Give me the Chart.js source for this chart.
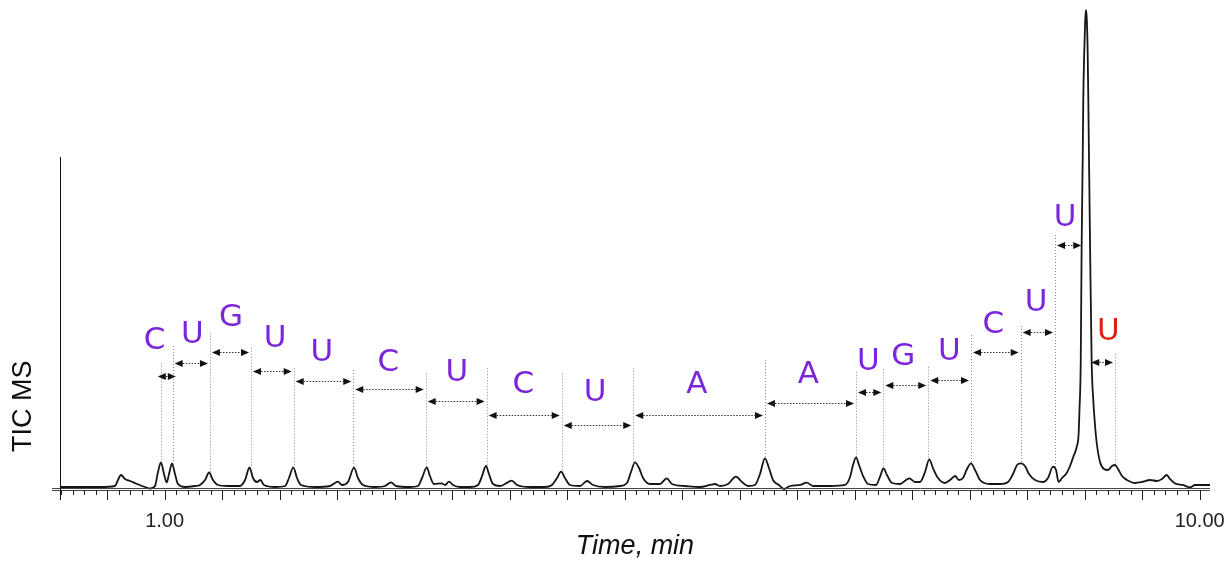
<!DOCTYPE html>
<html><head><meta charset="utf-8">
<script src="https://cdn.jsdelivr.net/npm/chart.js@4.4.1/dist/chart.umd.min.js"></script>
<style>html,body{margin:0;padding:0;background:#fff;overflow:hidden}canvas{display:block}</style>
</head><body>
<canvas id="c" width="1224" height="562"></canvas>
<script>
// ---- trace (time in min, TIC in % of largest peak) ----
const TIME = [0.090,0.438,0.568,0.594,0.620,0.655,0.699,0.760,0.829,0.873,
0.916,0.942,0.968,0.994,1.018,1.038,1.064,1.090,1.116,1.177,
1.264,1.307,1.351,1.386,1.420,1.464,1.551,1.655,1.699,1.738,
1.768,1.803,1.833,1.864,1.960,2.047,2.081,2.119,2.151,2.186,
2.307,2.438,2.481,2.507,2.542,2.594,2.647,2.681,2.725,2.829,
2.916,2.968,3.012,3.133,3.203,3.238,3.279,3.307,3.342,3.409,
3.438,3.473,3.507,3.568,3.655,3.725,3.760,3.794,3.820,3.855,
3.916,3.960,4.018,4.064,4.177,4.307,4.368,4.412,4.447,4.481,
4.525,4.612,4.673,4.725,4.829,4.960,5.020,5.055,5.090,5.125,
5.160,5.220,5.307,5.366,5.412,5.525,5.655,5.742,5.786,5.829,
5.899,5.968,6.020,6.073,6.133,6.177,6.220,6.255,6.290,6.342,
6.386,6.438,6.525,6.583,6.638,6.786,6.916,6.960,6.986,7.012,
7.038,7.073,7.116,7.186,7.220,7.251,7.281,7.325,7.394,7.475,
7.525,7.568,7.612,7.649,7.681,7.725,7.786,7.829,7.873,7.907,
7.942,7.977,8.012,8.047,8.090,8.177,8.264,8.334,8.377,8.412,
8.447,8.481,8.516,8.568,8.638,8.681,8.725,8.751,8.773,8.803,
8.844,8.873,8.901,8.931,8.947,8.955,8.966,8.974,8.983,8.988,
8.997,9.005,9.012,9.019,9.026,9.032,9.038,9.047,9.061,9.075,
9.090,9.105,9.133,9.168,9.203,9.238,9.264,9.290,9.325,9.368,
9.438,9.499,9.568,9.629,9.673,9.714,9.742,9.786,9.855,9.916,
9.960,10.090];
const TIC = [0.62,0.62,0.83,2.07,3.11,2.28,1.87,1.24,0.62,0.31,
0.83,3.73,5.71,3.32,1.56,3.32,5.50,3.32,1.24,0.62,
0.83,1.04,2.07,3.63,2.07,1.04,0.83,0.83,2.07,4.67,
2.49,1.66,2.07,1.04,0.62,0.83,2.49,4.71,2.49,1.04,
0.62,0.83,1.45,1.72,1.04,1.66,4.63,2.49,1.04,0.62,
0.83,1.60,0.83,0.62,0.83,2.49,4.71,2.90,1.24,1.39,
1.04,1.72,1.04,0.62,0.62,1.04,2.90,4.98,3.32,1.24,
0.83,1.24,1.93,1.04,0.62,0.62,1.04,2.49,3.80,2.49,
1.04,0.83,1.87,1.04,0.62,0.83,1.45,3.73,5.75,4.56,
2.49,1.24,1.24,2.43,1.24,0.83,0.62,1.04,1.24,0.83,
1.24,2.76,1.66,0.83,1.04,3.32,6.58,4.56,2.07,1.04,
0.21,0.83,1.04,1.51,0.83,0.83,1.04,2.70,5.19,6.78,
5.19,2.90,1.24,1.04,2.70,4.46,3.11,1.45,1.24,2.43,
1.66,1.66,3.73,6.37,4.56,2.49,1.45,2.07,2.90,2.07,
2.49,4.36,5.54,4.15,2.07,1.24,1.24,1.66,3.32,5.19,
5.54,4.98,3.32,2.07,1.66,2.49,4.83,4.15,1.66,2.49,
3.53,4.98,6.85,8.92,11.41,16.60,26.56,50.83,68.46,80.91,
91.29,97.51,99.59,97.51,91.29,80.91,68.46,50.83,26.56,18.67,
13.49,9.75,5.87,4.36,4.15,4.98,5.19,4.36,2.90,2.07,
1.45,1.66,2.07,1.87,2.28,3.11,2.28,1.35,1.04,0.52,
1.04,1.04];

// ---- peak boundary markers (dotted verticals) ----
const BOUND_T    = [0.968,1.070,1.394,1.751,2.122,2.640,3.270,3.800,4.453,5.075,6.220,7.012,7.249,7.640,8.012,8.444,8.742,9.264];
const BOUND_TOP  = [26.29,29.88,32.63,29.52,25.25,24.90,24.21,25.25,24.21,25.25,26.97,24.54,25.04,25.58,32.16,34.02,52.90,28.15];
const BOUND_BASE = [5.71,5.50,3.63,4.67,4.71,4.63,4.71,4.98,3.80,5.75,6.58,6.78,4.46,6.37,5.54,5.54,4.83,5.19];

// ---- sequence ladder: mass-difference arrows and base letters ----
const SEG_FROM  = [0.968,1.070,1.394,1.751,2.122,2.640,3.270,3.800,4.453,5.075,6.220,7.012,7.249,7.640,8.012,8.444,8.742,9.040];
const SEG_TO    = [1.070,1.394,1.751,2.122,2.640,3.270,3.800,4.453,5.075,6.220,7.012,7.249,7.640,8.012,8.444,8.742,8.988,9.264];
const SEG_LEVEL = [23.71,26.29,28.57,24.63,22.68,20.89,18.46,15.56,13.49,15.56,18.11,20.39,21.78,22.82,28.69,32.72,50.83,26.56];
const LETTERS   = ['C','U','G','U','U','C','U','C','U','A','A','U','G','U','C','U','U','U'];
const LETTER_T  = [0.912,1.240,1.577,1.960,2.366,2.945,3.540,4.119,4.742,5.627,6.597,7.119,7.423,7.823,8.206,8.577,8.829,9.206];
const LETTER_V  = [31.02,32.26,35.62,31.27,28.36,26.41,24.34,21.78,20.06,21.78,23.86,26.62,27.66,28.69,34.23,38.73,56.37,32.84];
const LETTER_KIND = [0,0,0,0,0,0,0,0,0,0,0,0,0,0,0,0,0,1]; // 1 = 3'-terminal (red)

// ---- axis ----
const X_MIN = 0.09, X_MAX = 10.09;
const X_TICK_LABELS = [1, 10];
const Y_AXIS_TOP = 69.1;

const LETTER_COLORS = ['#7c26dc', '#dc2412'];
const SANS = '"Liberation Sans", Arial, sans-serif';

const annot = {
  id: 'annot',
  beforeDatasetsDraw(chart) {
    const {ctx, scales: {x, y}} = chart;
    ctx.save();
    ctx.strokeStyle = '#8c8c8c';
    ctx.lineWidth = 1;
    ctx.setLineDash([1, 2]);
    BOUND_T.forEach((t, i) => {
      const px = Math.round(x.getPixelForValue(t)) + 0.5;
      ctx.beginPath();
      ctx.moveTo(px, y.getPixelForValue(BOUND_TOP[i]));
      ctx.lineTo(px, y.getPixelForValue(BOUND_BASE[i]));
      ctx.stroke();
    });
    ctx.restore();
  },
  afterDatasetsDraw(chart) {
    const {ctx, scales: {x, y}} = chart;
    ctx.save();
    const head = 8, hh = 3.5, gap = 2;
    SEG_FROM.forEach((t0, i) => {
      const x0 = x.getPixelForValue(t0), x1 = x.getPixelForValue(SEG_TO[i]);
      const py = Math.round(y.getPixelForValue(SEG_LEVEL[i])) + 0.5;
      let tl = x0 + gap, tr = x1 - gap;
      if (tr - tl < 2 * head + 2) { const m = (x0 + x1) / 2; tl = m - head - 1; tr = m + head + 1; }
      ctx.setLineDash([1.5, 1.5]);
      ctx.strokeStyle = '#333';
      ctx.lineWidth = 1.2;
      ctx.beginPath(); ctx.moveTo(tl + head, py); ctx.lineTo(tr - head, py); ctx.stroke();
      ctx.setLineDash([]);
      ctx.fillStyle = '#111';
      ctx.beginPath(); ctx.moveTo(tl, py); ctx.lineTo(tl + head, py - hh); ctx.lineTo(tl + head, py + hh); ctx.closePath(); ctx.fill();
      ctx.beginPath(); ctx.moveTo(tr, py); ctx.lineTo(tr - head, py - hh); ctx.lineTo(tr - head, py + hh); ctx.closePath(); ctx.fill();
    });
    ctx.font = '31px "DejaVu Sans", Verdana, sans-serif';
    ctx.textAlign = 'center';
    ctx.textBaseline = 'middle';
    LETTERS.forEach((L, i) => {
      ctx.fillStyle = LETTER_COLORS[LETTER_KIND[i]];
      ctx.fillText(L, x.getPixelForValue(LETTER_T[i]), y.getPixelForValue(LETTER_V[i]));
    });
    ctx.restore();
  },
  afterDraw(chart) {
    const {ctx, chartArea: a, scales: {x, y}} = chart;
    ctx.save();
    // x axis (double rule)
    ctx.strokeStyle = '#444';
    ctx.lineWidth = 1;
    [a.bottom - 1.5, a.bottom + 0.5].forEach(py => {
      ctx.beginPath(); ctx.moveTo(a.left - 8, py); ctx.lineTo(a.right, py); ctx.stroke();
    });
    // tick marks: minor every 0.1, major every 0.5
    ctx.strokeStyle = '#222';
    for (let k = 1; k <= 100; k++) {
      const t = k / 10;
      if (t < X_MIN || t > X_MAX) continue;
      const px = Math.round(x.getPixelForValue(t)) + 0.5;
      const len = (k % 5 === 0) ? 10 : 5;
      ctx.beginPath(); ctx.moveTo(px, a.bottom); ctx.lineTo(px, a.bottom + len); ctx.stroke();
    }
    // y axis line
    ctx.strokeStyle = '#111';
    ctx.beginPath();
    ctx.moveTo(a.left + 0.5, y.getPixelForValue(Y_AXIS_TOP));
    ctx.lineTo(a.left + 0.5, a.bottom + 10);
    ctx.stroke();
    // y title
    ctx.translate(a.left - 36, y.getPixelForValue(17.4));
    ctx.rotate(-Math.PI / 2);
    ctx.font = '27px ' + SANS;
    ctx.fillStyle = '#111';
    ctx.textAlign = 'center';
    ctx.textBaseline = 'middle';
    ctx.fillText('TIC MS', 0, 0);
    ctx.restore();
  }
};

Chart.defaults.font.family = SANS;

new Chart(document.getElementById('c'), {
  type: 'line',
  data: {
    datasets: [{
      label: 'TIC MS',
      data: TIME.map((t, i) => ({x: t, y: TIC[i]})),
      borderColor: '#161616',
      borderWidth: 1.8,
      pointRadius: 0,
      fill: false,
      cubicInterpolationMode: 'monotone'
    }]
  },
  options: {
    responsive: false,
    animation: false,
    devicePixelRatio: 1,
    layout: {padding: {left: 60, right: 14, top: 8, bottom: 0}},
    plugins: {legend: {display: false}, tooltip: {enabled: false}},
    scales: {
      x: {
        type: 'linear',
        min: X_MIN, max: X_MAX,
        grid: {display: false, drawTicks: true, tickLength: 19},
        border: {display: false},
        afterBuildTicks: s => { s.ticks = X_TICK_LABELS.map(v => ({value: v})); },
        afterFit: s => { s.paddingLeft = 0; s.paddingRight = 0; },
        ticks: {
          autoSkip: false, maxRotation: 0, padding: 0,
          color: '#222',
          font: {size: 20, family: SANS},
          callback: v => Number(v).toFixed(2)
        },
        title: {
          display: true, text: 'Time, min', color: '#111',
          font: {size: 27, style: 'italic', family: SANS, lineHeight: 1},
          padding: {top: 0, bottom: 2}
        }
      },
      y: {type: 'linear', min: 0, max: 100, display: false}
    }
  },
  plugins: [annot]
});
</script>
</body></html>
